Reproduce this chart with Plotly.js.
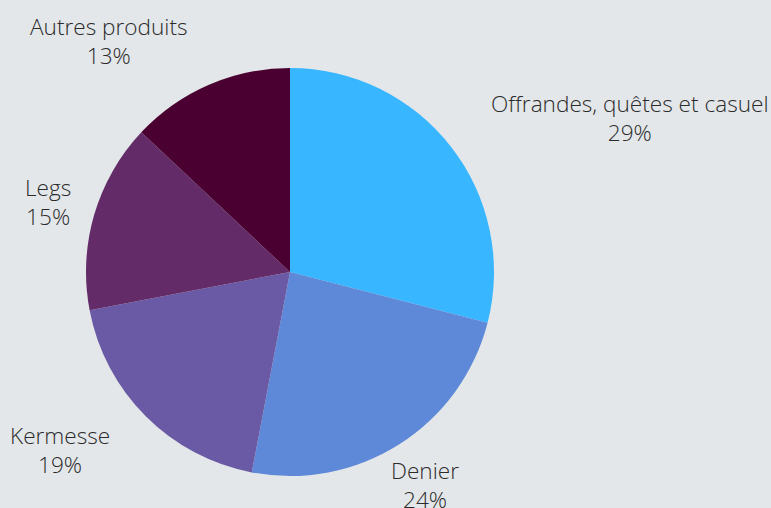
<!DOCTYPE html>
<html>
<head>
<meta charset="utf-8">
<script src="https://cdn.plot.ly/plotly-3.0.1.min.js"></script>
<style>html,body{margin:0;padding:0;background:#e3e7e9;}</style>
</head>
<body>
<div id="chart" style="width:771px;height:508px;"></div>
<script>
const labels = ["Offrandes, quêtes et casuel", "Denier", "Kermesse", "Legs", "Autres produits"];
const values = [29, 24, 19, 15, 13];
const colors = ["#38b6ff", "#5e88d8", "#6a5aa5", "#632c69", "#4a0030"];

// label placement derived from the data: outside each slice, at the middle angle
const labelDistance = 1.235;
const total = values.reduce((a, b) => a + b, 0);
const annotations = [];
let cum = 0;
values.forEach((v, i) => {
  const mid = (cum + v / 2) / total * 2 * Math.PI; // clockwise from 12 o'clock
  cum += v;
  const sx = Math.sin(mid), cy = Math.cos(mid);
  let xanchor = "center";
  if (labels[i].length > 6) xanchor = sx >= 0 ? "left" : "right";
  annotations.push({
    xref: "paper", yref: "paper",
    x: 0.5 + 0.5 * labelDistance * sx,
    y: 0.5 + 0.5 * labelDistance * cy,
    xanchor: xanchor, yanchor: "middle", align: "center",
    showarrow: false,
    text: labels[i] + "<br>" + Math.round(v / total * 100) + "%",
    font: {family: "Open Sans", size: 22.6, color: "#2b2b2b", weight: 300}
  });
});

Plotly.newPlot("chart", [{
  type: "pie",
  labels: labels,
  values: values,
  sort: false,
  direction: "clockwise",
  rotation: 0,
  marker: {colors: colors, line: {width: 0}},
  textinfo: "none",
  automargin: false,
  hoverinfo: "label+percent"
}], {
  width: 771,
  height: 508,
  paper_bgcolor: "#e3e7e9",
  plot_bgcolor: "#e3e7e9",
  showlegend: false,
  margin: {l: 86, r: 277, t: 68, b: 32},
  annotations: annotations
}, {displayModeBar: false, staticPlot: true});
</script>
</body>
</html>
